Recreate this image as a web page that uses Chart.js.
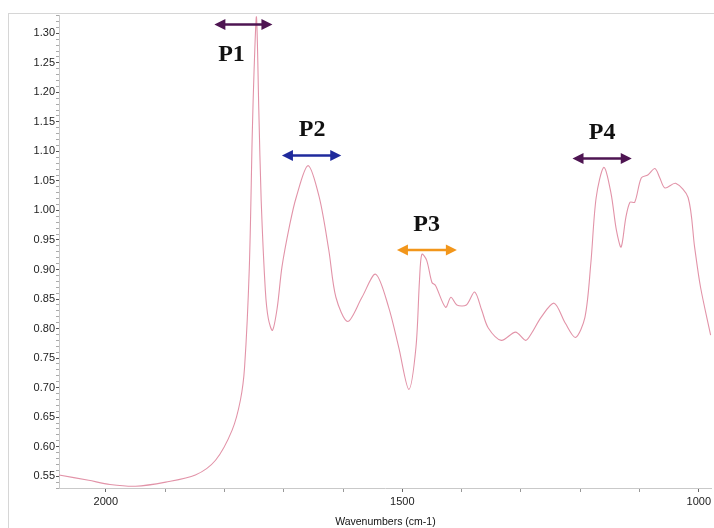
<!DOCTYPE html>
<html>
<head>
<meta charset="utf-8">
<script src="https://cdn.jsdelivr.net/npm/chart.js@4"></script>
<style>
  body { margin: 0; background: #fff; }
  #wrap { width: 714px; height: 528px; position: relative; }
</style>
</head>
<body>
<div id="wrap"><canvas id="irChart" width="714" height="528"></canvas></div>
<script>
// spectrum (wavenumber cm-1, absorbance)
const wavenumbers = [2079, 2029, 1993, 1950, 1899, 1849, 1815, 1787, 1773, 1766, 1758, 1753, 1750, 1746, 1742, 1738, 1731, 1726, 1719, 1711, 1703, 1690, 1679, 1659, 1640, 1624, 1612, 1592, 1568, 1545, 1523, 1506, 1489, 1477, 1471, 1467, 1459, 1450, 1444, 1427, 1418, 1408, 1392, 1378, 1366, 1355, 1333, 1309, 1292, 1282, 1266, 1244, 1225, 1208, 1192, 1182, 1173, 1160, 1148, 1139, 1131, 1123, 1116, 1108, 1097, 1086, 1074, 1066, 1057, 1039, 1018, 1007, 997, 980];
const absorbance  = [0.552, 0.543, 0.536, 0.533, 0.540, 0.552, 0.577, 0.628, 0.679, 0.735, 0.904, 1.131, 1.237, 1.328, 1.170, 1.017, 0.865, 0.817, 0.797, 0.835, 0.904, 0.975, 1.022, 1.076, 1.022, 0.933, 0.853, 0.812, 0.853, 0.892, 0.836, 0.768, 0.697, 0.768, 0.882, 0.926, 0.916, 0.878, 0.873, 0.836, 0.853, 0.840, 0.840, 0.862, 0.831, 0.801, 0.780, 0.794, 0.780, 0.792, 0.819, 0.843, 0.809, 0.785, 0.819, 0.911, 1.022, 1.073, 1.029, 0.967, 0.938, 0.988, 1.014, 1.014, 1.055, 1.060, 1.071, 1.056, 1.038, 1.046, 1.022, 0.938, 0.870, 0.789];

const xTickLabels = [2000, 1500, 1000];
const yTickLabels = [0.55, 0.60, 0.65, 0.70, 0.75, 0.80, 0.85, 0.90, 0.95, 1.00, 1.05, 1.10, 1.15, 1.20, 1.25, 1.30];

// peak markers: label, arrow span (cm-1), arrow height, label position
const peakNames  = ["P1", "P2", "P3", "P4"];
const peakFrom   = [1817, 1703, 1509, 1213];
const peakTo     = [1719, 1603, 1408, 1113];
const peakArrowY = [1.315, 1.093, 0.933, 1.088];
const peakLabelX = [1788, 1652, 1459, 1163];
const peakLabelY = [1.263, 1.136, 0.975, 1.131];
const peakColors = ["#4e1552", "#1f2a9c", "#f2961b", "#4e1552"];

const points = wavenumbers.map((w, i) => ({ x: w, y: absorbance[i] }));

function arrowHead(ctx, x, y, dir) {
  ctx.beginPath();
  ctx.moveTo(x, y);
  ctx.lineTo(x - dir * 11, y - 5.5);
  ctx.lineTo(x - dir * 11, y + 5.5);
  ctx.closePath();
  ctx.fill();
}

const peakMarkers = {
  id: "peakMarkers",
  beforeDraw(chart) {
    const ctx = chart.ctx;
    ctx.save();
    ctx.strokeStyle = "#d6d6d6";
    ctx.lineWidth = 1;
    ctx.strokeRect(8.5, 13.5, 800, 600);
    ctx.restore();
  },
  afterDatasetsDraw(chart) {
    const ctx = chart.ctx;
    const xs = chart.scales.x, ys = chart.scales.y;
    ctx.save();
    peakNames.forEach((name, i) => {
      const x1 = xs.getPixelForValue(peakFrom[i]);
      const x2 = xs.getPixelForValue(peakTo[i]);
      const y = ys.getPixelForValue(peakArrowY[i]);
      ctx.strokeStyle = peakColors[i];
      ctx.fillStyle = peakColors[i];
      ctx.lineWidth = 2.5;
      ctx.beginPath();
      ctx.moveTo(x1 + 8, y);
      ctx.lineTo(x2 - 8, y);
      ctx.stroke();
      arrowHead(ctx, x1, y, -1);
      arrowHead(ctx, x2, y, 1);
      ctx.fillStyle = "#111";
      ctx.font = "bold 24px 'Liberation Serif', 'DejaVu Serif', serif";
      ctx.textAlign = "center";
      ctx.textBaseline = "middle";
      ctx.fillText(name, xs.getPixelForValue(peakLabelX[i]), ys.getPixelForValue(peakLabelY[i]));
    });
    ctx.restore();
  }
};

const ctx = document.getElementById("irChart").getContext("2d");
new Chart(ctx, {
  type: "line",
  data: {
    datasets: [{
      data: points,
      borderColor: "#e293a8",
      borderWidth: 1.1,
      pointRadius: 0,
      fill: false,
      tension: 0.3
    }]
  },
  options: {
    responsive: false,
    animation: false,
    events: [],
    layout: { padding: { top: 15, right: 0, left: 0, bottom: 0 } },
    plugins: { legend: { display: false }, tooltip: { enabled: false } },
    scales: {
      x: {
        type: "linear",
        reverse: true,
        min: 978,
        max: 2079,
        afterBuildTicks: (scale) => {
          const t = [];
          for (let v = 2000; v >= 1000; v -= 100) t.push({ value: v });
          scale.ticks = t;
        },
        afterFit: (scale) => { scale.height = 40; },
        ticks: {
          autoSkip: false,
          maxRotation: 0,
          padding: 3,
          color: "#222",
          font: { family: "'Liberation Sans', Arial, sans-serif", size: 11 },
          callback: (v) => xTickLabels.includes(v) ? String(v) : ""
        },
        border: { color: "#c9c9c9", width: 1 },
        grid: {
          drawOnChartArea: false,
          tickLength: 4,
          color: (c) => xTickLabels.includes(c.tick && c.tick.value) ? "#666" : "#999"
        },
        title: {
          display: true,
          text: "Wavenumbers (cm-1)",
          color: "#111",
          font: { family: "'Liberation Sans', Arial, sans-serif", size: 10.5 },
          padding: { top: 0, bottom: 0 }
        }
      },
      y: {
        min: 0.53,
        max: 1.331,
        afterBuildTicks: (scale) => {
          const t = [];
          for (let k = 53; k <= 133; k++) t.push({ value: k / 100 });
          scale.ticks = t;
        },
        afterFit: (scale) => { scale.width = 59; },
        ticks: {
          autoSkip: false,
          padding: 1,
          color: "#222",
          font: { family: "'Liberation Sans', Arial, sans-serif", size: 11 },
          callback: (v) => {
            const hit = yTickLabels.find(l => Math.abs(l - v) < 1e-6);
            return hit !== undefined ? hit.toFixed(2) : "";
          }
        },
        border: { color: "#c9c9c9", width: 1 },
        grid: {
          drawOnChartArea: false,
          tickLength: 3,
          color: (c) => {
            const v = c.tick ? c.tick.value : 0;
            return yTickLabels.some(l => Math.abs(l - v) < 1e-6) ? "#555" : "#aaa";
          }
        }
      }
    }
  },
  plugins: [peakMarkers]
});
</script>
</body>
</html>
